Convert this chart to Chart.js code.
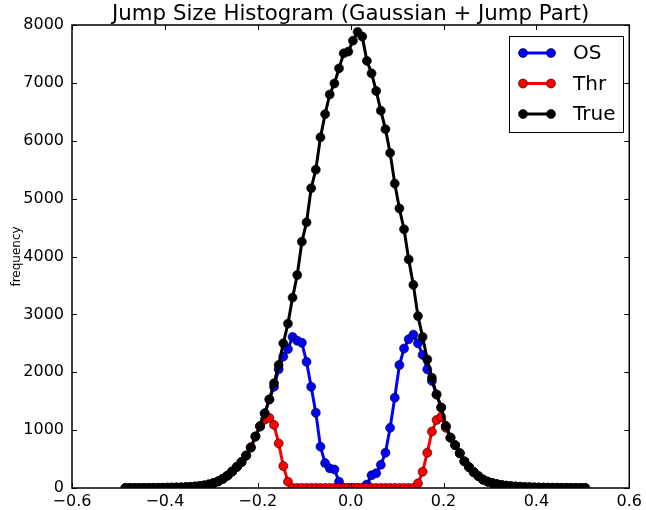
<!DOCTYPE html>
<html>
<head>
<meta charset="utf-8">
<script src="https://cdn.jsdelivr.net/npm/chart.js@4.4.0/dist/chart.umd.min.js"></script>
<style>
  html, body { margin: 0; padding: 0; background: #fff; }
  #wrap { width: 646px; height: 510px; }
</style>
</head>
<body>
<div id="wrap"><canvas id="histChart" width="646" height="510"></canvas></div>
<script>
// bin centres of the jump-size histogram
const binCenters = [
  -0.485, -0.475, -0.465, -0.455, -0.445, -0.435, -0.425, -0.415, -0.405, -0.395,
  -0.385, -0.375, -0.365, -0.355, -0.345, -0.335, -0.325, -0.315, -0.305, -0.295,
  -0.285, -0.275, -0.265, -0.255, -0.245, -0.235, -0.225, -0.215, -0.205, -0.195,
  -0.185, -0.175, -0.165, -0.155, -0.145, -0.135, -0.125, -0.115, -0.105, -0.095,
  -0.085, -0.075, -0.065, -0.055, -0.045, -0.035, -0.025, -0.015, -0.005,
  0.005, 0.015, 0.025, 0.035, 0.045, 0.055, 0.065, 0.075, 0.085, 0.095,
  0.105, 0.115, 0.125, 0.135, 0.145, 0.155, 0.165, 0.175, 0.185, 0.195,
  0.205, 0.215, 0.225, 0.235, 0.245, 0.255, 0.265, 0.275, 0.285, 0.295,
  0.305, 0.315, 0.325, 0.335, 0.345, 0.355, 0.365, 0.375, 0.385, 0.395,
  0.405, 0.415, 0.425, 0.435, 0.445, 0.455, 0.465, 0.475, 0.485, 0.495, 0.505
];

const trueCounts = [
  0, 0, 0, 0, 1, 1, 2, 2, 3, 5,
  6, 8, 10, 14, 18, 24, 33, 45, 62, 85,
  115, 160, 215, 285, 365, 450, 560, 700, 890, 1070,
  1290, 1530, 1810, 2125, 2500, 2840, 3290, 3680, 4256, 4590,
  5180, 5500, 6060, 6460, 6800, 6990, 7250, 7510, 7540,
  7730, 7880, 7800, 7380, 7165, 6860, 6520, 6200, 5790, 5260,
  4830, 4470, 3950, 3510, 2970, 2610, 2220, 1905, 1615, 1390,
  1070, 870, 740, 600, 460, 360, 275, 205, 145, 110,
  85, 65, 50, 40, 32, 25, 20, 15, 12, 9,
  7, 6, 5, 4, 3, 2, 2, 1, 1, 0, 0
];

const osCounts = [
  0, 0, 0, 0, 1, 1, 2, 2, 3, 5,
  6, 8, 10, 14, 18, 24, 33, 45, 62, 85,
  115, 160, 215, 285, 365, 450, 560, 700, 890, 1070,
  1290, 1530, 1750, 2050, 2270, 2400, 2610, 2545, 2510, 2180,
  1750, 1300, 714, 430, 340, 320, 110, 0, 0,
  0, 0, 0, 60, 220, 255, 400, 610, 1040, 1560,
  2125, 2410, 2570, 2650, 2500, 2300, 2050, 1850, 1615, 1390,
  1070, 870, 740, 600, 460, 360, 275, 205, 145, 110,
  85, 65, 50, 40, 32, 25, 20, 15, 12, 9,
  7, 6, 5, 4, 3, 2, 2, 1, 1, 0, 0
];

const thrCounts = [
  0, 0, 0, 0, 1, 1, 2, 2, 3, 5,
  6, 8, 10, 14, 18, 24, 33, 45, 62, 85,
  115, 160, 215, 285, 365, 450, 560, 700, 890, 1060,
  1180, 1210, 1090, 770, 380, 110, 0, 0, 0, 0,
  0, 0, 0, 0, 0, 0, 0, 0, 0,
  0, 0, 0, 0, 0, 0, 0, 0, 0, 0,
  0, 0, 0, 0, 80, 280, 610, 975, 1175, 1230,
  1040, 870, 740, 600, 460, 360, 275, 205, 145, 110,
  85, 65, 50, 40, 32, 25, 20, 15, 12, 9,
  7, 6, 5, 4, 3, 2, 2, 1, 1, 0, 0
];

const seriesNames = ['OS', 'Thr', 'True'];
const seriesColors = ['#0000ff', '#ff0000', '#000000'];
const xTicks = [-0.6, -0.4, -0.2, 0.0, 0.2, 0.4, 0.6];
const yTicks = [0, 1000, 2000, 3000, 4000, 5000, 6000, 7000, 8000];
const titleText = 'Jump Size Histogram (Gaussian + Jump Part)';

const FONT = '"DejaVu Sans", sans-serif';

function toPoints(ys) {
  return binCenters.map((x, i) => ({ x: x, y: ys[i] }));
}

// later series are painted over earlier ones (True on top)
const allSeries = [osCounts, thrCounts, trueCounts];
const datasets = allSeries.map((ys, i) => ({
  label: seriesNames[i],
  data: toPoints(ys),
  order: allSeries.length - i,
  showLine: true,
  borderColor: seriesColors[i],
  backgroundColor: seriesColors[i],
  borderWidth: 3,
  pointRadius: 4.5,
  pointBorderWidth: 0.6,
  pointBorderColor: '#000',
  pointBackgroundColor: seriesColors[i],
  tension: 0
}));

function fmtX(v) {
  return v.toFixed(1).replace('-', '\u2212');
}

// frame with inward ticks, title and legend
const decorPlugin = {
  id: 'decor',
  afterDraw(chart) {
    const ctx = chart.ctx;
    const a = chart.chartArea;
    const xs = chart.scales.x;
    const ys = chart.scales.y;
    ctx.save();
    ctx.strokeStyle = '#000';
    ctx.lineWidth = 1.5;
    ctx.strokeRect(a.left, a.top, a.right - a.left, a.bottom - a.top);

    const tl = 5;
    ctx.lineWidth = 1;
    ctx.beginPath();
    xTicks.forEach(v => {
      const px = Math.round(xs.getPixelForValue(v)) + 0.5;
      ctx.moveTo(px, a.bottom); ctx.lineTo(px, a.bottom - tl);
      ctx.moveTo(px, a.top); ctx.lineTo(px, a.top + tl);
    });
    yTicks.forEach(v => {
      const py = Math.round(ys.getPixelForValue(v)) + 0.5;
      ctx.moveTo(a.left, py); ctx.lineTo(a.left + tl, py);
      ctx.moveTo(a.right, py); ctx.lineTo(a.right - tl, py);
    });
    ctx.stroke();

    // title
    ctx.fillStyle = '#000';
    ctx.font = '21.3px ' + FONT;
    ctx.textAlign = 'center';
    ctx.textBaseline = 'alphabetic';
    ctx.fillText(titleText, (a.left + a.right) / 2, 20);

    // legend
    const bx = 509, by = 36, bw = 114, bh = 96;
    ctx.fillStyle = '#fff';
    ctx.fillRect(bx, by, bw, bh);
    ctx.strokeStyle = '#000';
    ctx.lineWidth = 1;
    ctx.strokeRect(bx + 0.5, by + 0.5, bw, bh);
    ctx.font = '20px ' + FONT;
    ctx.textAlign = 'left';
    ctx.textBaseline = 'middle';
    seriesNames.forEach((name, i) => {
      const cy = by + 17 + i * 30.5;
      const x0 = 523, x1 = 551;
      ctx.strokeStyle = seriesColors[i];
      ctx.lineWidth = 3;
      ctx.beginPath();
      ctx.moveTo(x0, cy); ctx.lineTo(x1, cy);
      ctx.stroke();
      [x0, x1].forEach(px => {
        ctx.beginPath();
        ctx.arc(px, cy, 4.5, 0, Math.PI * 2);
        ctx.fillStyle = seriesColors[i];
        ctx.fill();
        ctx.lineWidth = 0.6;
        ctx.strokeStyle = '#000';
        ctx.stroke();
      });
      ctx.fillStyle = '#000';
      ctx.fillText(name, 573, cy + 1);
    });
    ctx.restore();
  }
};

new Chart(document.getElementById('histChart'), {
  type: 'scatter',
  data: { datasets: datasets },
  options: {
    responsive: false,
    animation: false,
    layout: { padding: { top: 25, right: 13, bottom: 0, left: 0 } },
    plugins: {
      legend: { display: false },
      title: { display: false },
      tooltip: { enabled: false }
    },
    scales: {
      x: {
        type: 'linear',
        min: -0.6,
        max: 0.6,
        afterBuildTicks: s => { s.ticks = xTicks.map(v => ({ value: v })); },
        afterFit: s => { s.height = 22; },
        grid: { display: false, drawTicks: false },
        border: { display: false },
        ticks: {
          padding: 4,
          color: '#000',
          autoSkip: false,
          maxRotation: 0,
          font: { family: FONT, size: 16 },
          callback: v => fmtX(v)
        }
      },
      y: {
        min: 0,
        max: 8000,
        afterBuildTicks: s => { s.ticks = yTicks.map(v => ({ value: v })); },
        afterFit: s => { s.width = 72; },
        grid: { display: false, drawTicks: false },
        border: { display: false },
        title: {
          display: true,
          text: 'frequency',
          color: '#000',
          font: { family: FONT, size: 12 },
          padding: { top: 10, bottom: 0 }
        },
        ticks: {
          padding: 8,
          color: '#000',
          font: { family: FONT, size: 16 },
          callback: v => String(v)
        }
      }
    }
  },
  plugins: [decorPlugin]
});
</script>
</body>
</html>
